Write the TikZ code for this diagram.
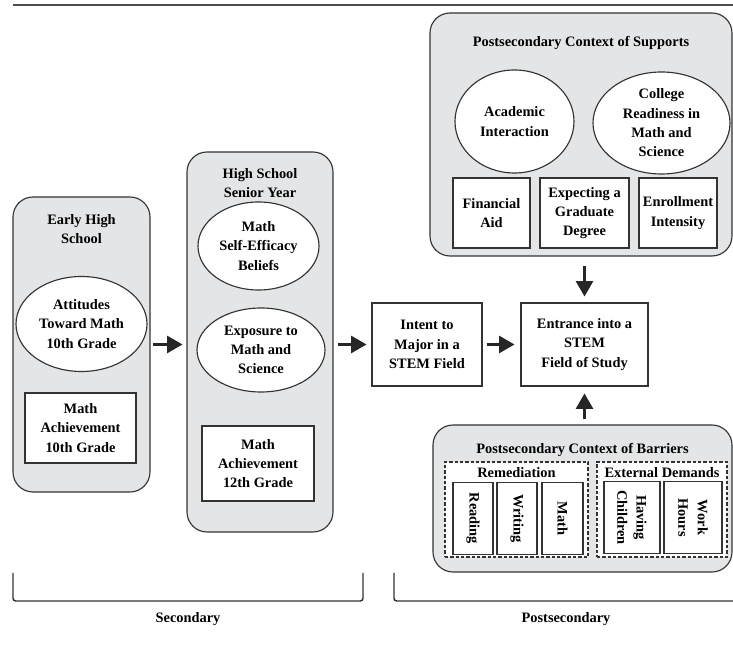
\documentclass[tikz,border=0pt]{standalone}
\usepackage{fontspec}
\setmainfont{Liberation Serif}
\usepackage{tikz}
\usetikzlibrary{shapes.geometric, arrows}
\definecolor{panelgray}{HTML}{E4E5E6}
\definecolor{linegray}{HTML}{333333}

\begin{document}
\begin{tikzpicture}[
                x=0.75pt, y=-0.75pt, % pixel grid, y going down
                every node/.style={font=\fontsize{10.8}{14.5}\selectfont\bfseries, align=center, inner sep=0pt, line width=0.85pt},
                panel/.style={rectangle, rounded corners=15pt, draw=linegray, fill=panelgray}, % grey group box
                oval/.style={ellipse, draw=linegray, fill=white}, % latent construct
                box/.style={rectangle, draw=linegray, fill=white}, % measured variable
                dashbox/.style={rectangle, draw=linegray, fill=white, dash pattern=on 2.5pt off 1.5pt},
                vbox/.style={box, rotate=-90, minimum width=54pt}, % text read top to bottom
                arrow/.style={-triangle 60, line width=2.2pt, draw=black!85},
                bracket/.style={draw=linegray, line width=1.1pt, rounded corners=2pt}
                ]
                \useasboundingbox (0,0) rectangle (733,655);
                \draw[line width=1.5pt, draw=black!70] (13,5) -- (733,5);

                % secondary
                \node[panel, minimum width=102.75pt, minimum height=221.25pt] (early) at (81.5,344.5) {};
                \node (earlytitle) at (81.5,229) {Early High\\School};
                \node[oval, minimum width=98.25pt, minimum height=71.25pt] (attitudes) at (81.5,324) {Attitudes\\Toward Math\\10th Grade};
                \node[box, minimum width=83.25pt, minimum height=52.5pt] (ach10) at (80.5,428) {Math\\Achievement\\10th Grade};

                \node[panel, minimum width=109.5pt, minimum height=285pt] (senior) at (260,342) {};
                \node (seniortitle) at (260,183) {High School\\Senior Year};
                \node[oval, minimum width=90.75pt, minimum height=66pt] (efficacy) at (258.5,246) {Math\\Self-Efficacy\\Beliefs};
                \node[oval, minimum width=96pt, minimum height=63pt] (exposure) at (261,350) {Exposure to\\Math and\\Science};
                \node[box, minimum width=84pt, minimum height=56.25pt] (ach12) at (258,463.5) {Math\\Achievement\\12th Grade};

                % postsecondary
                \node[box, minimum width=82.5pt, minimum height=62.25pt] (intent) at (427,344.5) {Intent to\\Major in a\\STEM Field};
                \node[box, minimum width=95.25pt, minimum height=62.25pt] (entrance) at (584.5,344.5) {Entrance into a\\STEM\\Field of Study};

                \node[panel, minimum width=226.5pt, minimum height=182.25pt] (supports) at (581,134.5) {};
                \node (supportstitle) at (581,43) {Postsecondary Context of Supports};
                \node[oval, minimum width=89.25pt, minimum height=77.25pt] (academic) at (514.5,121.5) {Academic\\Interaction};
                \node[oval, minimum width=102.75pt, minimum height=76.5pt] (readiness) at (661.5,123) {College\\Readiness in\\Math and\\Science};
                \node[box, minimum width=57.75pt, minimum height=52.5pt] (aid) at (491.5,213) {Financial\\Aid};
                \node[box, minimum width=66.75pt, minimum height=52.5pt] (gradeg) at (584.5,213) {Expecting a\\Graduate\\Degree};
                \node[box, minimum width=58.5pt, minimum height=52.5pt] (intensity) at (678,213) {Enrollment\\Intensity};

                \node[panel, minimum width=224.25pt, minimum height=110.25pt] (barriers) at (582.5,498.5) {};
                \node (barrierstitle) at (582.5,450) {Postsecondary Context of Barriers};
                \node[dashbox, minimum width=107.25pt, minimum height=71.25pt] (remed) at (516.5,509.5) {};
                \node (remedtitle) at (516.5,473) {Remediation};
                \node[vbox, minimum height=30pt] (reading) at (473,518.5) {Reading};
                \node[vbox, minimum height=30pt] (writing) at (517,518.5) {Writing};
                \node[vbox, minimum height=30.75pt] (mathrem) at (562.5,518.5) {Math};
                \node[dashbox, minimum width=97.5pt, minimum height=71.25pt] (external) at (662,509.5) {};
                \node (externaltitle) at (662,473) {External Demands};
                \node[vbox, minimum height=42pt] (children) at (632,517.5) {Having\\Children};
                \node[vbox, minimum height=43.5pt] (hours) at (693,517.5) {Work\\Hours};

                % paths
                \draw[arrow, shorten <=2pt, shorten >=3pt] (early.east) -- (early.east -| senior.west);
                \draw[arrow, shorten <=3pt, shorten >=3.75pt] (senior.east |- intent.west) -- (intent.west);
                \draw[arrow, shorten <=3pt, shorten >=4.5pt] (intent.east) -- (entrance.west);
                \draw[arrow, shorten <=6.75pt, shorten >=4.5pt] (supports.south -| entrance.north) -- (entrance.north);
                \draw[arrow, shorten <=3.75pt, shorten >=5.25pt] (barriers.north -| entrance.south) -- (entrance.south);

                % brackets
                \draw[bracket] (13,573) -- (13,601) -- (363,601) -- (363,573);
                \draw[bracket] (394,573) -- (394,601) -- (733,601);
                \node (secondary) at (188,619) {Secondary};
                \node (postsecondary) at (566,619) {Postsecondary};
            \end{tikzpicture}
\end{document}
